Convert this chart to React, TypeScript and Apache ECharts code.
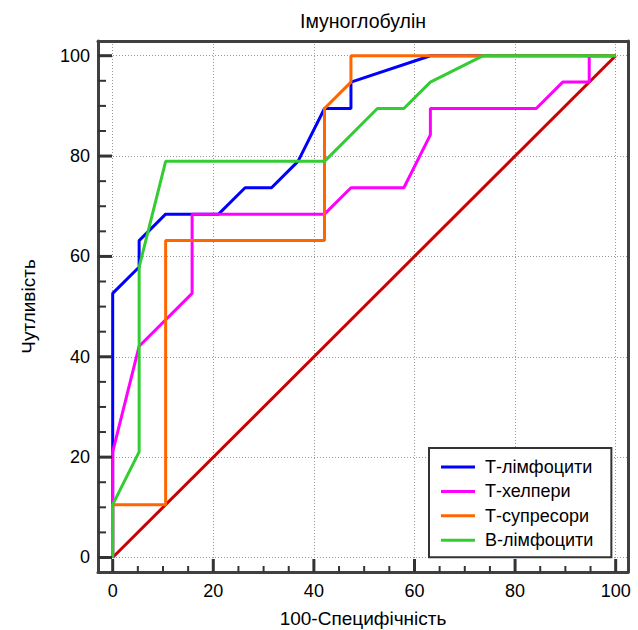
import React, { useEffect, useRef } from "react";
import * as echarts from "echarts";

const titleText = "Імуноглобулін";
const xAxisName = "100-Специфічність";
const yAxisName = "Чутливість";
const tickValues = [0, 20, 40, 60, 80, 100];
const minorTickValues = [5, 10, 15, 25, 30, 35, 45, 50, 55, 65, 70, 75, 85, 90, 95];

const seriesNames = ["Т-лімфоцити", "Т-хелпери", "Т-супресори", "В-лімфоцити"];
const seriesColors = ["#0000ff", "#ff00ff", "#ff6600", "#33cc33"];

const tLymphX = [0, 0, 5.26, 5.26, 10.53, 21.05, 26.32, 31.58, 36.84, 42.11, 47.37, 47.37, 63.16, 100];
const tLymphY = [0, 52.63, 57.89, 63.16, 68.42, 68.42, 73.68, 73.68, 78.95, 89.47, 89.47, 94.74, 100, 100];

const tHelperX = [0, 0, 5.26, 15.79, 15.79, 42.11, 47.37, 57.89, 63.16, 63.16, 84.21, 89.47, 94.74, 94.74, 100];
const tHelperY = [0, 21.05, 42.11, 52.63, 68.42, 68.42, 73.68, 73.68, 84.21, 89.47, 89.47, 94.74, 94.74, 100, 100];

const tSuppX = [0, 0, 10.53, 10.53, 42.11, 42.11, 47.37, 47.37, 100];
const tSuppY = [0, 10.53, 10.53, 63.16, 63.16, 89.47, 94.74, 100, 100];

const bLymphX = [0, 0, 5.26, 5.26, 10.53, 42.11, 52.63, 57.89, 63.16, 73.68, 100];
const bLymphY = [0, 10.53, 21.05, 57.89, 78.95, 78.95, 89.47, 89.47, 94.74, 100, 100];

const diagX = [0, 100];
const diagY = [0, 100];

const X_MIN = -2.92;
const X_MAX = 102.45;
const Y_MIN = -2.89;
const Y_MAX = 102.93;

const FONT = "'Liberation Sans', Arial, sans-serif";

function zip(xs: number[], ys: number[]) {
  return xs.map((x, i) => [x, ys[i]]);
}

export default function App() {
  const ref = useRef<HTMLDivElement>(null);
  useEffect(() => {
    document.body.style.margin = "0";
    const chart = echarts.init(ref.current!, null, { renderer: "svg" });
    const frame = "#404040";
    const mainAxis = (isX: boolean) => ({
      type: "value",
      min: isX ? X_MIN : Y_MIN,
      max: isX ? X_MAX : Y_MAX,
      minInterval: 20,
      maxInterval: 20,
      position: isX ? "bottom" : "left",
      axisLine: { show: true, onZero: false, lineStyle: { color: frame, width: 3 } },
      axisTick: { show: false },
      minorTick: { show: false },
      axisLabel: {
        customValues: tickValues,
        fontSize: 18,
        fontFamily: FONT,
        color: "#000",
        margin: isX ? 10 : 8,
      },
      splitLine: {
        show: true,
        lineStyle: { color: "#999", width: 1, type: [1, 2] },
      },
      nameLocation: "middle",
      nameTextStyle: { fontSize: 19, fontFamily: FONT, color: "#000" },
    });
    const frameAxis = (isX: boolean) => ({
      type: "value",
      min: isX ? X_MIN : Y_MIN,
      max: isX ? X_MAX : Y_MAX,
      position: isX ? "top" : "right",
      axisLine: { show: true, onZero: false, lineStyle: { color: frame, width: 3 } },
      axisTick: { show: false },
      minorTick: { show: false },
      axisLabel: { show: false },
      splitLine: { show: false },
    });

    const lines = [
      { name: seriesNames[0], x: tLymphX, y: tLymphY },
      { name: seriesNames[1], x: tHelperX, y: tHelperY },
      { name: seriesNames[2], x: tSuppX, y: tSuppY },
      { name: seriesNames[3], x: bLymphX, y: bLymphY },
    ];

    chart.setOption({
      animation: false,
      backgroundColor: "#fff",
      title: {
        text: titleText,
        left: 363,
        textAlign: "center",
        top: 11,
        padding: 0,
        textStyle: { fontSize: 19.5, fontWeight: "normal", fontFamily: FONT, color: "#000" },
      },
      grid: {
        left: 98,
        right: 10,
        top: 41,
        bottom: 58,
        show: false,
        containLabel: false,
        outerBoundsMode: "none",
      },
      legend: {
        data: seriesNames,
        orient: "vertical",
        left: 429,
        top: 448,
        padding: [10, 18, 8, 12],
        itemGap: 6.4,
        itemWidth: 34,
        itemHeight: 3,
        icon: "rect",
        backgroundColor: "#fff",
        borderColor: "#333",
        borderWidth: 2,
        borderRadius: 0,
        textStyle: { fontSize: 18, fontFamily: FONT, color: "#000", padding: [0, 0, 0, 5] },
        z: 12,
      },
      xAxis: [{ ...mainAxis(true), name: xAxisName, nameGap: 37 }, frameAxis(true)],
      yAxis: [{ ...mainAxis(false), name: yAxisName, nameGap: 60 }, frameAxis(false)],
      series: [
        {
          name: "diag",
          type: "line",
          data: zip(diagX, diagY),
          showSymbol: false,
          lineStyle: { color: "#cc0000", width: 3 },
          itemStyle: { color: "#cc0000" },
          z: 2,
        },
        ...lines.map((l, i) => ({
          name: l.name,
          type: "line",
          data: zip(l.x, l.y),
          showSymbol: false,
          lineStyle: { color: seriesColors[i], width: 3 },
          itemStyle: { color: seriesColors[i] },
          z: 3 + i,
        })),
      ],
    });

    // Axis ticks placed through the chart's own scales.
    const tickEls: any[] = [];
    const addTicks = (vals: number[], lenX: number, lenY: number, w: number) => {
      vals.forEach((v) => {
        const pb = chart.convertToPixel({ xAxisIndex: 0, yAxisIndex: 0 }, [v, Y_MIN]) as number[];
        tickEls.push({
          type: "line",
          z: 20,
          silent: true,
          shape: { x1: pb[0], y1: pb[1], x2: pb[0], y2: pb[1] - lenX },
          style: { stroke: "#333", lineWidth: w },
        });
        const pl = chart.convertToPixel({ xAxisIndex: 0, yAxisIndex: 0 }, [X_MIN, v]) as number[];
        tickEls.push({
          type: "line",
          z: 20,
          silent: true,
          shape: { x1: pl[0], y1: pl[1], x2: pl[0] + lenY, y2: pl[1] },
          style: { stroke: "#333", lineWidth: w },
        });
      });
    };
    addTicks(tickValues, 13, 14, 3);
    addTicks(minorTickValues, 6, 8, 2);
    chart.setOption({ graphic: { elements: tickEls } });

    return () => chart.dispose();
  }, []);
  return <div ref={ref} style={{ width: 638, height: 630 }} />;
}
